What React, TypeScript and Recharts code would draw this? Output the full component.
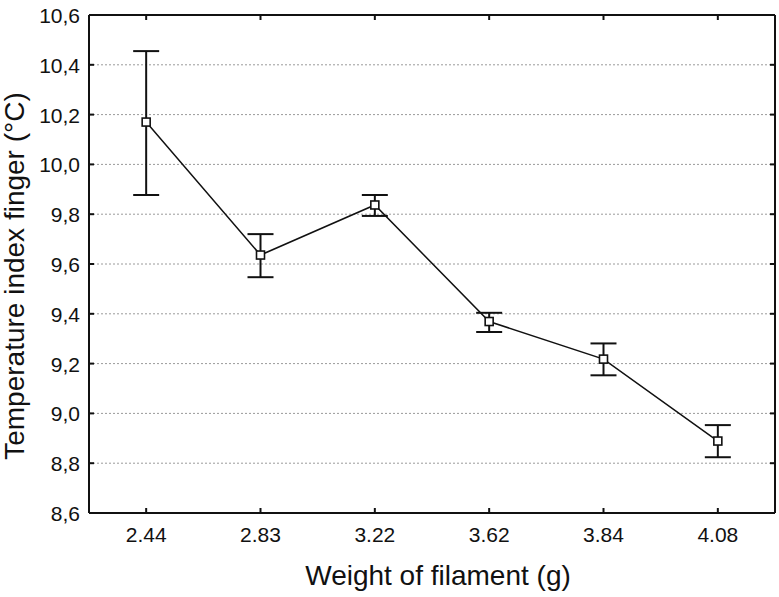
import {
  CartesianGrid,
  ComposedChart,
  ErrorBar,
  Line,
  XAxis,
  YAxis,
} from "recharts";

const weights = ["2.44", "2.83", "3.22", "3.62", "3.84", "4.08"];
const meanTemp = [10.17, 9.636, 9.837, 9.369, 9.218, 8.889];
const upperTemp = [10.455, 9.72, 9.877, 9.404, 9.281, 8.953];
const lowerTemp = [9.877, 9.547, 9.793, 9.327, 9.153, 8.824];
const yTicks = [8.6, 8.8, 9.0, 9.2, 9.4, 9.6, 9.8, 10.0, 10.2, 10.4, 10.6];

const data = weights.map((w, i) => ({
  weight: w,
  temp: meanTemp[i],
  err: [meanTemp[i] - lowerTemp[i], upperTemp[i] - meanTemp[i]],
}));

const FONT = '"Liberation Sans", Arial, sans-serif';
const INK = "#111";

const BottomTick = ({ x, y, payload }: any) => (
  <g>
    <line x1={x} x2={x} y1={y} y2={y - 5} stroke={INK} strokeWidth={2} />
    <text x={x} y={y + 29} textAnchor="middle" fontSize={21} fontFamily={FONT} fill={INK}>
      {payload.value}
    </text>
  </g>
);

const TopTick = ({ x, y }: any) => (
  <line x1={x} x2={x} y1={y} y2={y + 5} stroke={INK} strokeWidth={2} />
);

const LeftTick = ({ x, y, payload }: any) => (
  <g>
    <line x1={x} x2={x + 5} y1={y} y2={y} stroke={INK} strokeWidth={2} />
    <text x={x - 9} y={y + 8} textAnchor="end" fontSize={21} fontFamily={FONT} fill={INK}>
      {Number(payload.value).toFixed(1).replace(".", ",")}
    </text>
  </g>
);

const RightTick = ({ x, y }: any) => (
  <line x1={x} x2={x - 5} y1={y} y2={y} stroke={INK} strokeWidth={2} />
);

const SquareDot = ({ cx, cy }: any) => (
  <rect x={cx - 4} y={cy - 4} width={8} height={8} fill="#fff" stroke={INK} strokeWidth={1.6} />
);

export default function App() {
  return (
    <div style={{ position: "absolute", left: 0, top: 0, background: "#fff" }}>
      <ComposedChart
        width={779}
        height={597}
        data={data}
        margin={{ top: 14, right: 3, bottom: 0, left: 0 }}
      >
        <CartesianGrid vertical={false} stroke="#9a9a9a" strokeDasharray="2 2" />
        <XAxis
          dataKey="weight"
          type="category"
          scale="band"
          height={84}
          tickSize={0}
          tickMargin={0}
          tickLine={false}
          tick={<BottomTick />}
          axisLine={{ stroke: INK, strokeWidth: 2 }}
          label={{
            content: () => (
              <text x={438} y={585} textAnchor="middle" fontSize={28} fontFamily={FONT} fill={INK}>
                Weight of filament (g)
              </text>
            ),
          }}
        />
        <XAxis
          xAxisId="top"
          dataKey="weight"
          type="category"
          scale="band"
          orientation="top"
          height={1}
          tickSize={0}
          tickMargin={0}
          tickLine={false}
          tick={<TopTick />}
          axisLine={{ stroke: INK, strokeWidth: 2 }}
        />
        <YAxis
          type="number"
          domain={[8.6, 10.6]}
          ticks={yTicks}
          width={89}
          tickSize={0}
          tickMargin={0}
          tickLine={false}
          tick={<LeftTick />}
          axisLine={{ stroke: INK, strokeWidth: 2 }}
          label={{
            content: () => (
              <text
                x={24}
                y={276}
                transform="rotate(-90, 24, 276)"
                textAnchor="middle"
                fontSize={28}
                fontFamily={FONT}
                fill={INK}
              >
                Temperature index finger (°C)
              </text>
            ),
          }}
        />
        <YAxis
          yAxisId="right"
          orientation="right"
          type="number"
          domain={[8.6, 10.6]}
          ticks={yTicks}
          width={1}
          tickSize={0}
          tickMargin={0}
          tickLine={false}
          tick={<RightTick />}
          axisLine={{ stroke: INK, strokeWidth: 2 }}
        />
        <Line
          xAxisId="top"
          yAxisId="right"
          dataKey="temp"
          stroke="none"
          dot={false}
          activeDot={false}
          legendType="none"
          isAnimationActive={false}
        />
        <Line
          dataKey="temp"
          stroke={INK}
          strokeWidth={1.5}
          dot={<SquareDot />}
          activeDot={false}
          isAnimationActive={false}
        >
          <ErrorBar dataKey="err" direction="y" width={13} stroke={INK} strokeWidth={2} />
        </Line>
      </ComposedChart>
    </div>
  );
}
